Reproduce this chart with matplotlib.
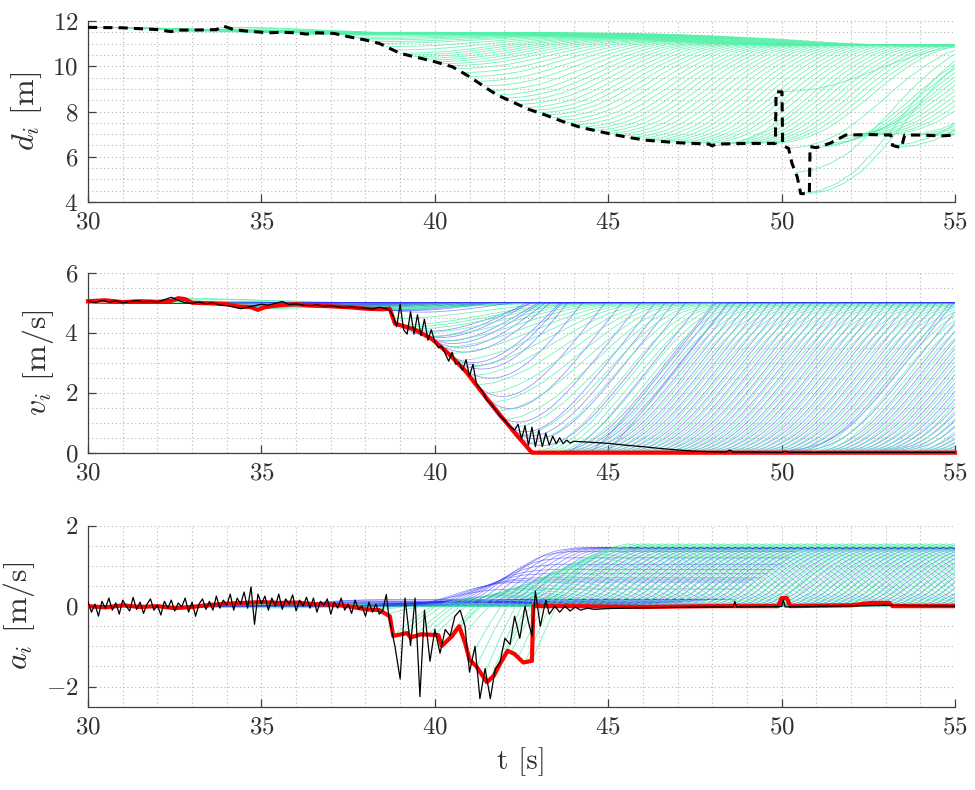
import numpy as np
import matplotlib
matplotlib.use("Agg")
import matplotlib.pyplot as plt
from matplotlib.ticker import MultipleLocator

plt.rcParams['font.family'] = 'serif'
plt.rcParams['font.serif'] = ['cmr10']
plt.rcParams['mathtext.fontset'] = 'cm'
plt.rcParams['axes.formatter.use_mathtext'] = True

# ---- measured distance (black dashed) ----
d_t = [30, 31, 32, 32.4, 32.6, 33.0, 33.7, 33.9, 34.2, 34.6, 35.2, 35.6, 36.0, 36.3, 36.6, 37.1,
       37.5, 38.0, 38.4, 39.0, 39.6, 40.0, 40.5, 41.0, 41.5, 41.8, 42.2, 42.7, 43.2, 43.7, 44.2,
       45.0, 45.6, 46.1, 47.0, 47.9, 48.0, 48.1, 49.0, 49.82, 49.84, 50.01, 50.03, 50.2, 50.3,
       50.45, 50.55, 50.8, 50.82, 51.0, 51.4, 51.85, 52.5, 53.15, 53.2, 53.45, 53.55, 54.0, 54.6, 55.0]
d_val = [11.72, 11.7, 11.62, 11.53, 11.6, 11.6, 11.62, 11.78, 11.62, 11.55, 11.48, 11.5, 11.48, 11.42,
         11.48, 11.45, 11.31, 11.16, 11.01, 10.57, 10.35, 10.2, 9.98, 9.54, 9.02, 8.73, 8.45, 8.1,
         7.84, 7.55, 7.3, 7.03, 6.85, 6.73, 6.62, 6.56, 6.48, 6.56, 6.59, 6.59, 8.87, 8.87, 6.5,
         6.37, 5.7, 5.11, 4.37, 4.37, 6.45, 6.4, 6.6, 6.96, 6.98, 6.96, 6.5, 6.4, 6.96, 6.96, 6.92, 6.96]

# ---- filtered speed (red) ----
v_red_t = [30, 30.5, 31, 31.5, 32, 32.4, 32.6, 32.8, 33.0, 33.5, 34.0, 34.3, 34.7, 34.9, 35.1, 35.5,
           36.0, 36.5, 37.0, 37.5, 38.0, 38.5, 38.7, 38.85, 39.4, 39.9, 40.4, 40.9, 41.3, 41.85,
           42.35, 42.8, 55]
v_red = [5.05, 5.08, 5.02, 5.05, 5.03, 5.06, 5.15, 5.12, 5.0, 4.98, 4.95, 4.88, 4.85, 4.76, 4.85, 4.92,
         4.95, 4.9, 4.88, 4.85, 4.8, 4.78, 4.8, 4.3, 4.12, 3.8, 3.3, 2.7, 2.1, 1.3, 0.6, 0.0, 0.0]

# ---- measured speed (black) ----
v_blk_a = [5.05, 5.0, 5.08, 5.02, 5.06, 5.0, 5.04, 5.07, 5.03, 5.05, 5.02, 5.1, 5.18, 5.08, 5.0,
           4.98, 5.02, 4.96, 5.0, 4.92, 4.9, 4.86, 4.8, 4.85, 4.9, 4.95, 4.92, 4.98, 5.04, 4.94,
           4.96, 4.92, 4.9, 4.93, 4.88, 4.9, 4.86, 4.84, 4.86, 4.83, 4.82, 4.78, 4.85, 4.8]
v_blk_b = [4.8, 4.75, 4.55, 4.2, 4.95, 4.1, 3.95, 4.7, 3.95, 4.6, 3.9, 4.45, 3.75, 4.1, 3.7, 3.5,
           3.55, 3.3, 3.05, 3.35, 2.95, 3.0, 2.75, 3.1, 2.55, 2.95, 2.3, 2.15, 2.0, 1.75, 1.65, 1.5,
           1.35, 1.2, 1.1, 0.95, 0.85, 0.75, 0.95, 0.45, 0.9, 0.25, 0.85, 0.2, 0.75, 0.2, 0.65, 0.25,
           0.55, 0.3, 0.5, 0.3, 0.42, 0.32, 0.38]
v_blk_c_t = [44.3, 44.6, 45, 45.5, 46, 46.5, 47, 47.5, 48, 48.4, 48.5, 48.6, 49, 50, 50.1, 50.2, 55]
v_blk_c = [0.36, 0.34, 0.31, 0.25, 0.2, 0.14, 0.09, 0.05, 0.03, 0.02, 0.09, 0.02, 0.02, 0.01, 0.05, 0.01, 0.01]

# ---- filtered acceleration (red) ----
a_red_t = [30, 30.5, 31, 31.5, 32, 32.5, 33, 33.5, 34, 34.5, 35, 35.5, 36, 36.5, 37, 37.5, 38, 38.4,
           38.7, 38.8, 39.2, 39.3, 39.6, 40.1, 40.2, 40.5, 40.7, 40.87, 41.0, 41.2, 41.5, 41.7, 41.9,
           42.1, 42.3, 42.55, 42.8, 42.84, 44, 46, 48, 49.9, 50.0, 50.15, 50.25, 52, 52.6, 53.1,
           53.2, 55]
a_red = [0.0, -0.03, 0.02, -0.02, 0.0, -0.05, -0.02, 0.03, 0.06, 0.08, 0.1, 0.08, 0.09, 0.05, 0.04,
         0.0, -0.08, -0.1, -0.25, -0.74, -0.67, -0.78, -0.7, -0.72, -0.99, -0.74, -0.5, -0.91, -1.33,
         -1.5, -1.89, -1.73, -1.4, -1.11, -1.19, -1.4, -1.36, 0.0, 0.0, -0.02, 0.0, 0.0, 0.2, 0.2,
         0.0, 0.02, 0.08, 0.08, 0.0, 0.0]

# ---- measured acceleration (black) ----
a_blk_a = [0.1, -0.15, 0.05, -0.25, 0.12, -0.05, 0.2, -0.1, 0.08, -0.2, 0.15, 0.0, -0.12, 0.22, -0.08,
           0.1, -0.18, 0.05, 0.18, -0.1, 0.02, -0.22, 0.12, -0.05, 0.15, -0.12, 0.08, -0.02, 0.2,
           -0.15, 0.1, -0.25, 0.05, 0.18, -0.08, 0.12, -0.1, 0.25, -0.05, 0.15, 0.02, 0.3, -0.1, 0.2,
           0.05, 0.35, -0.05, 0.48, -0.45, 0.3, 0.05, 0.25, -0.1, 0.2, 0.0, 0.3, -0.08, 0.18, 0.05,
           0.28, -0.12, 0.15, 0.0, 0.22, -0.05, 0.2, -0.15, 0.12, 0.02, 0.18, -0.2, 0.1, -0.05, 0.2,
           -0.1, 0.05, -0.18, 0.15, -0.08, 0.0, -0.25, 0.1, -0.15, 0.05, -0.2, -0.1]
a_blk_b_t = [38.6, 38.68, 38.75, 38.85, 39.0, 39.14, 39.3, 39.43, 39.57, 39.7, 39.86, 40.0, 40.15,
             40.3, 40.44, 40.58, 40.73, 40.87, 41.0, 41.16, 41.3, 41.45, 41.6, 41.74, 41.88, 42.02,
             42.17, 42.3, 42.45, 42.6, 42.7, 42.8, 42.9, 43.04, 43.2, 43.3, 43.46, 43.6, 43.75, 43.9,
             44.05, 44.2, 44.4, 44.6, 45, 46, 47, 48, 48.6, 48.65, 48.7, 50.0, 50.05, 50.1, 53, 55]
a_blk_b = [0.29, -0.3, -0.58, -1.0, -1.81, 0.2, -0.98, 0.2, -2.25, -0.1, -1.37, -0.58, -1.17, -0.58,
           -0.74, -0.25, -0.1, -0.5, -1.64, -1.0, -2.3, -1.55, -2.3, -1.56, -1.4, -0.8, -0.95, -0.25,
           -0.8, 0.0, -0.4, -0.74, 0.37, -0.5, 0.15, -0.2, 0.0, -0.15, 0.0, -0.12, -0.02, -0.1, -0.05,
           -0.08, -0.06, -0.04, -0.03, -0.02, -0.02, 0.12, -0.02, -0.01, 0.15, -0.02, 0.02, 0.0]

# ---- prediction shapes ----
tau_knots = [0, 0.5, 1, 1.5, 2, 2.5, 2.75, 3, 3.5, 4, 4.5, 5, 5.5, 6, 10]
green_rise = [0, 0.03, 0.10, 0.20, 0.33, 0.47, 0.54, 0.61, 0.74, 0.85, 0.93, 0.97, 0.99, 1.0, 1.0]
green_bell = [0, 0.38, 0.8, 1.12, 1.36, 1.5, 1.55, 1.5, 1.38, 1.14, 0.82, 0.47, 0.2, 0.05, 0.0]
blue_ramp = [0, 0.06, 0.22, 0.45, 0.68, 0.86, 0.92, 0.96, 1.0, 1.0, 1.0, 1.0, 1.0, 1.0, 1.0]
start_fade = [1, 0.55, 0.2, 0.05, 0, 0, 0, 0, 0, 0, 0, 0, 0, 0, 0]
d_rise = [0, 0.02, 0.07, 0.15, 0.27, 0.41, 0.48, 0.56, 0.7, 0.82, 0.92, 0.98, 1.01, 1.01, 1.0]
d_goal_t = [30, 36, 38, 40, 42, 44, 55]
d_goal = [11.5, 11.45, 11.35, 11.2, 11.0, 10.9, 10.9]
v_goal = 5.0
a_max = 1.45
pred_t0 = np.arange(30, 55, 0.2)

GREEN = '#52f0a8'
BLUE = '#3030ff'

fig = plt.figure(figsize=(9.75, 7.9), dpi=100)
ax1 = fig.add_axes([0.0903, 0.7443, 0.8892, 0.2291])
ax2 = fig.add_axes([0.0903, 0.4270, 0.8892, 0.2278])
ax3 = fig.add_axes([0.0903, 0.1054, 0.8892, 0.2292])

tau = np.arange(0, 10.001, 0.05)
g_rise = np.interp(tau, tau_knots, green_rise)
g_bell = np.interp(tau, tau_knots, green_bell)
b_ramp = np.interp(tau, tau_knots, blue_ramp)
fade = np.interp(tau, tau_knots, start_fade)
dr = np.interp(tau, tau_knots, d_rise)

for t0 in pred_t0:
    tt = t0 + tau
    d0 = np.interp(t0, d_t, d_val)
    v0 = np.interp(t0, v_red_t, v_red)
    a0 = np.interp(t0, a_red_t, a_red)
    dg = np.interp(t0, d_goal_t, d_goal)
    # distance prediction
    ax1.plot(tt, d0 + (dg - d0) * dr, color=GREEN, lw=0.6, alpha=0.8)
    # green model
    ax2.plot(tt, v0 + (v_goal - v0) * g_rise, color=GREEN, lw=0.6, alpha=0.8)
    ax3.plot(tt, a0 * fade + (v_goal - v0) / v_goal * g_bell, color=GREEN, lw=0.6, alpha=0.8)
    # blue model
    amp = min(a_max, 0.8 * max(0.0, v_goal - v0))
    ab = amp * b_ramp
    vb = v0 + np.cumsum((a0 * fade + ab) * 0.05)
    vb = np.clip(vb, 0, v_goal)
    ax2.plot(tt, vb, color=BLUE, lw=0.6, alpha=0.5)
    ax3.plot(tt, ab, color=BLUE, lw=0.6, alpha=0.5)

ax1.plot(d_t, d_val, color='black', lw=2.2, linestyle=(0, (3, 2)), clip_on=False, zorder=5)

ax2.plot(v_red_t, v_red, color='red', lw=3, clip_on=False, zorder=5)
v_blk_t = list(np.linspace(30, 38.6, len(v_blk_a))) + list(np.linspace(38.6, 44.0, len(v_blk_b)))[1:] + v_blk_c_t
v_blk = v_blk_a + v_blk_b[1:] + v_blk_c
ax2.plot(v_blk_t, v_blk, color='black', lw=0.9, zorder=6)

ax3.plot(a_red_t, a_red, color='red', lw=3, zorder=5)
a_blk_t = list(np.linspace(30, 38.5, len(a_blk_a))) + a_blk_b_t
a_blk = a_blk_a + a_blk_b
ax3.plot(a_blk_t, a_blk, color='black', lw=0.9, zorder=6)

setup = [(ax1, 4, 12, [4, 6, 8, 10, 12], r'$d_i$ [m]'),
         (ax2, 0, 6, [0, 2, 4, 6], r'$v_i$ [m/s]'),
         (ax3, -2.5, 2, [-2, 0, 2], r'$a_i$ [m/s]')]
for ax, lo, hi, yt, lab in setup:
    ax.set_xlim(30, 55)
    ax.set_ylim(lo, hi)
    ax.set_xticks([30, 35, 40, 45, 50, 55])
    ax.set_yticks(yt)
    ax.xaxis.set_minor_locator(MultipleLocator(1))
    ax.yaxis.set_minor_locator(MultipleLocator(0.5))
    ax.grid(which='both', linestyle=(0, (1, 2.5)), color='#b5b5b5', lw=0.8)
    ax.set_axisbelow(True)
    for s in ['top', 'right']:
        ax.spines[s].set_visible(False)
    for s in ['left', 'bottom']:
        ax.spines[s].set_color('#404040')
        ax.spines[s].set_linewidth(0.9)
    ax.tick_params(which='major', direction='in', length=6, width=0.9, color='#404040',
                   labelsize=18, labelcolor='#303030', pad=7)
    ax.tick_params(which='minor', length=0)
    ax.set_ylabel(lab, fontsize=23, color='#303030', labelpad=6)

ax3.set_xlabel('t [s]', fontsize=21, color='#303030', labelpad=6)

fig.savefig('out.png', dpi=100)
